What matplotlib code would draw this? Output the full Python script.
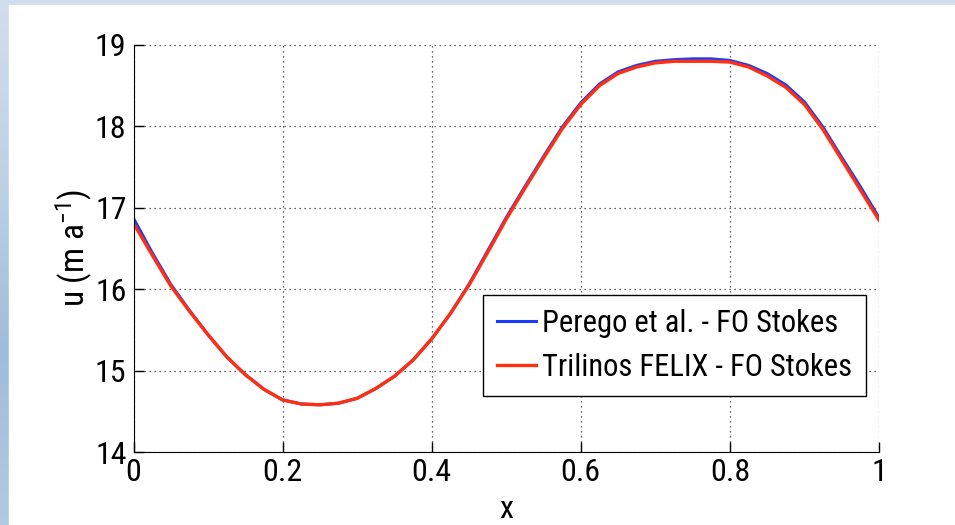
import numpy as np
import matplotlib
matplotlib.use("Agg")
import matplotlib.pyplot as plt
from matplotlib.patches import Rectangle

# data
x = [0.000, 0.025, 0.050, 0.075, 0.100, 0.125, 0.150, 0.175, 0.200, 0.225,
     0.250, 0.275, 0.300, 0.325, 0.350, 0.375, 0.400, 0.425, 0.450, 0.475,
     0.500, 0.525, 0.550, 0.575, 0.600, 0.625, 0.650, 0.675, 0.700, 0.725,
     0.750, 0.775, 0.800, 0.825, 0.850, 0.875, 0.900, 0.925, 0.950, 0.975,
     1.000]
u_perego = [16.87, 16.45, 16.06, 15.74, 15.44, 15.17, 14.95, 14.77, 14.64, 14.59,
            14.58, 14.60, 14.66, 14.78, 14.93, 15.13, 15.39, 15.70, 16.06, 16.47,
            16.88, 17.26, 17.63, 17.99, 18.29, 18.52, 18.67, 18.75, 18.80, 18.82,
            18.83, 18.83, 18.81, 18.75, 18.65, 18.51, 18.30, 17.99, 17.62, 17.26,
            16.88]
u_felix = [16.81, 16.42, 16.04, 15.73, 15.44, 15.17, 14.95, 14.77, 14.64, 14.59,
           14.58, 14.60, 14.66, 14.78, 14.93, 15.13, 15.39, 15.70, 16.05, 16.45,
           16.86, 17.24, 17.61, 17.97, 18.27, 18.50, 18.65, 18.73, 18.78, 18.80,
           18.80, 18.80, 18.79, 18.73, 18.62, 18.48, 18.27, 17.96, 17.59, 17.22,
           16.85]
labels = ["Perego et al. - FO Stokes", "Trilinos FELIX - FO Stokes"]
x_ticks = [0, 0.2, 0.4, 0.6, 0.8, 1]
x_ticklabels = ["0", "0.2", "0.4", "0.6", "0.8", "1"]
y_ticks = [14, 15, 16, 17, 18, 19]

plt.rcParams["font.family"] = ["Roboto Condensed", "Liberation Sans",
                               "DejaVu Sans"]
plt.rcParams["mathtext.fontset"] = "custom"
plt.rcParams["mathtext.rm"] = "Roboto Condensed"
plt.rcParams["mathtext.default"] = "regular"

fig = plt.figure(figsize=(9.55, 5.25), dpi=100)

# slide background: blue gradient strips on left and top
bg = fig.add_axes([0, 0, 1, 1], zorder=-10)
grad = np.array([[0.82, 0.87, 0.93], [0.75, 0.82, 0.90],
                 [0.62, 0.74, 0.86], [0.70, 0.79, 0.89]])
t = np.linspace(0, 3, 200)
cols = np.array([[np.interp(v, np.arange(4), grad[:, c]) for c in range(3)]
                 for v in t])
bg.imshow(cols[:, None, :], aspect="auto", extent=[0, 1, 0, 1])
bg.add_patch(Rectangle((9 / 955, 0), 1, 1 - 5 / 525, color="white"))
bg.set_xlim(0, 1)
bg.set_ylim(0, 1)
bg.axis("off")

ax = fig.add_axes([0.1398, 0.139, 0.7806, 0.7753])
ax.plot(x, u_perego, color="#1a3cff", lw=2.2, label=labels[0])
ax.plot(x, u_felix, color="#ff3010", lw=2.4, label=labels[1])

ax.set_xlim(0, 1)
ax.set_ylim(14, 19)
ax.set_xticks(x_ticks)
ax.set_xticklabels(x_ticklabels)
ax.set_yticks(y_ticks)
ax.tick_params(direction="in", length=7, width=1, labelsize=23)
ax.tick_params(axis="x", pad=4)
ax.tick_params(axis="y", pad=5)
ax.spines["top"].set_visible(False)
ax.spines["right"].set_visible(False)
ax.grid(True, linestyle=(0, (1, 3)), color="#333333", lw=0.9)

ax.set_xlabel("x", fontsize=23, labelpad=6)
ax.set_ylabel("u (m a$^{-1}$)", fontsize=24, labelpad=0)

leg = ax.legend(loc="upper right", bbox_to_anchor=(0.983, 0.386),
                fontsize=22, fancybox=False, framealpha=1,
                edgecolor="black", handlelength=1.3, handletextpad=0.2,
                borderaxespad=0, borderpad=0.45, labelspacing=0.5)
leg.get_frame().set_linewidth(1.0)

fig.savefig("out.png", dpi=100)
